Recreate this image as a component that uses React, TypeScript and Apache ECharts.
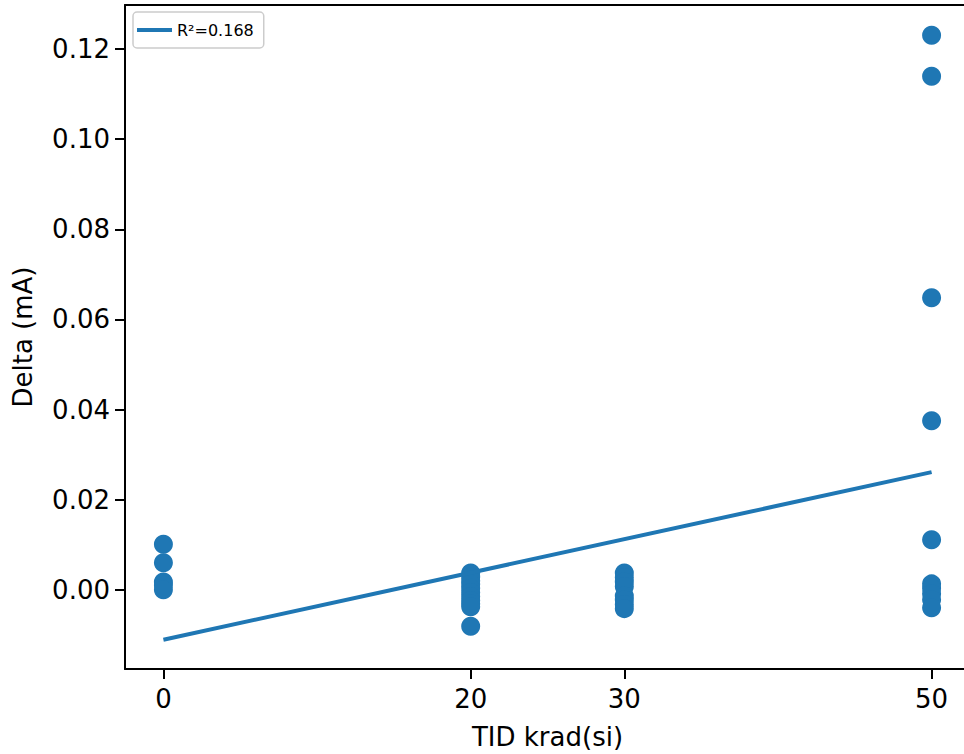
import React, { useEffect, useRef } from "react";
import * as echarts from "echarts";

// Dose levels (krad(si)) and measured current deltas (mA)
const tid0: number[] = [0.0101, 0.006, 0.0017, 0.001, 0.0];
const tid20: number[] = [0.0037, 0.0028, 0.002, 0.0012, 0.0003, -0.0006, -0.0015, -0.0024, -0.0031, -0.0038, -0.0081];
const tid30: number[] = [0.0037, 0.0027, 0.0017, 0.0007, -0.0014, -0.0023, -0.0033, -0.0042];
const tid50: number[] = [0.1231, 0.114, 0.0648, 0.0375, 0.0111, 0.0013, 0.0003, -0.0009, -0.0022, -0.004];

const doseLevels: number[] = [0, 20, 30, 50];
const deltaGroups: number[][] = [tid0, tid20, tid30, tid50];

// Linear fit: delta = intercept + slope * dose
const fitIntercept = -0.0111;
const fitSlope = 0.000744;
const fitLabel = "R\u00B2=0.168";

const xTicks: number[] = [0, 20, 30, 50];
const yTicks: number[] = [0, 0.02, 0.04, 0.06, 0.08, 0.1, 0.12];

const BLUE = "#1f77b4";
const FONT = "DejaVu Sans";

export default function App() {
  const ref = useRef<HTMLDivElement>(null);

  useEffect(() => {
    if (!ref.current) return;
    const chart = echarts.init(ref.current, null, { renderer: "svg" });

    const points: number[][] = [];
    deltaGroups.forEach((g, i) => g.forEach((v) => points.push([doseLevels[i], v])));

    const x0 = doseLevels[0];
    const x1 = doseLevels[doseLevels.length - 1];
    const fitLine = [
      [x0, fitIntercept + fitSlope * x0],
      [x1, fitIntercept + fitSlope * x1],
    ];

    const spine = { color: "#000", width: 2 };

    chart.setOption({
      animation: false,
      backgroundColor: "#ffffff",
      grid: {
        left: 125,
        top: 5,
        width: 845,
        height: 664,
        outerBoundsMode: "none",
        containLabel: false,
        show: false,
      },
      legend: {
        left: 133,
        top: 12,
        data: [fitLabel],
        icon: "rect",
        itemWidth: 35,
        itemHeight: 4,
        itemGap: 9,
        padding: [10, 10, 10, 4],
        borderColor: "#cccccc",
        borderWidth: 1.5,
        borderRadius: 4,
        backgroundColor: "rgba(255,255,255,0.8)",
        textStyle: { fontFamily: FONT, fontSize: 16, color: "#000" },
      },
      xAxis: [
        {
          type: "value",
          min: -2.5,
          max: 52.5,
          name: "TID krad(si)",
          nameLocation: "middle",
          nameGap: 55,
          nameTextStyle: { fontFamily: FONT, fontSize: 26, color: "#000" },
          axisLine: { show: true, onZero: false, lineStyle: spine },
          axisTick: {
            show: true,
            length: 10,
            lineStyle: spine,
            customValues: xTicks,
          },
          axisLabel: {
            fontFamily: FONT,
            fontSize: 26,
            color: "#000",
            margin: 17,
            customValues: xTicks,
            formatter: (v: number) => String(v),
          },
          splitLine: { show: false },
        },
        {
          // top frame line
          type: "value",
          position: "top",
          min: -2.5,
          max: 52.5,
          axisLine: { show: true, onZero: false, lineStyle: spine },
          axisTick: { show: false },
          axisLabel: { show: false },
          splitLine: { show: false },
        },
      ],
      yAxis: {
        type: "value",
        min: -0.0176,
        max: 0.1298,
        name: "Delta (mA)",
        nameLocation: "middle",
        nameGap: 89,
        nameTextStyle: { fontFamily: FONT, fontSize: 26, color: "#000" },
        axisLine: { show: true, onZero: false, lineStyle: spine },
        axisTick: {
          show: true,
          length: 10,
          lineStyle: spine,
          customValues: yTicks,
        },
        axisLabel: {
          fontFamily: FONT,
          fontSize: 26,
          color: "#000",
          margin: 15,
          customValues: yTicks,
          formatter: (v: number) => v.toFixed(2),
        },
        splitLine: { show: false },
      },
      series: [
        {
          type: "scatter",
          name: "data",
          data: points,
          symbolSize: 19,
          itemStyle: { color: BLUE, opacity: 1 },
          z: 2,
        },
        {
          type: "line",
          name: fitLabel,
          data: fitLine,
          showSymbol: false,
          symbol: "none",
          lineStyle: { color: BLUE, width: 4 },
          itemStyle: { color: BLUE },
          z: 3,
        },
      ],
    });

    return () => chart.dispose();
  }, []);

  return (
    <div
      ref={ref}
      style={{ position: "absolute", left: 0, top: 0, width: 964, height: 754 }}
    />
  );
}
